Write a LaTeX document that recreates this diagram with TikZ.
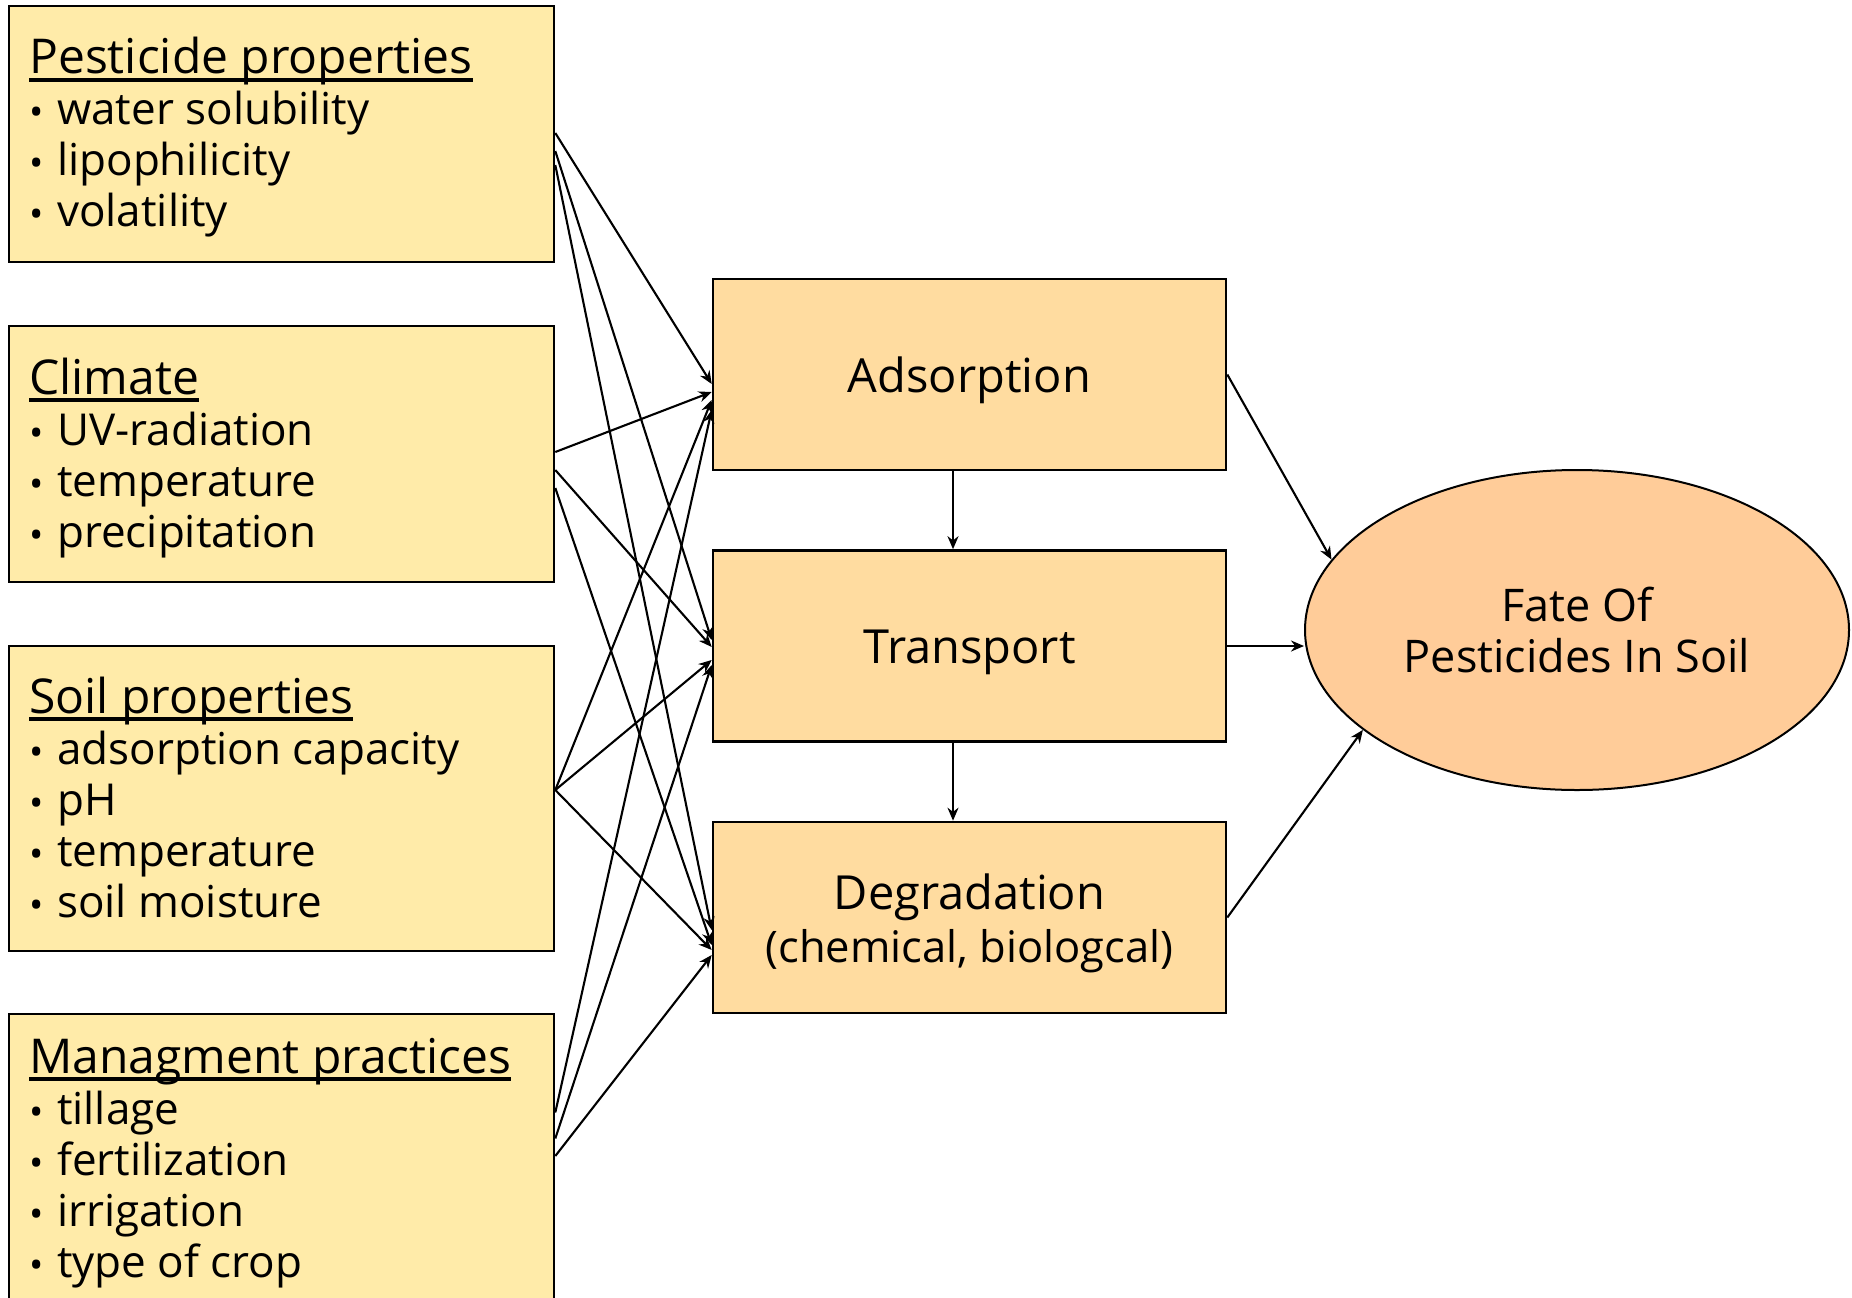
\documentclass[tikz,border=0pt]{standalone}
\usepackage{fontspec}
\setmainfont{Open Sans}
\usetikzlibrary{arrows.meta,calc,shapes.geometric}
\definecolor{factorfill}{HTML}{FFEBA9}
\definecolor{processfill}{HTML}{FFDCA0}
\definecolor{fatefill}{HTML}{FFCC99}
% underlined heading with a heavy rule, set a little larger than the entries
\newcommand{\hd}[1]{{\fontsize{48}{51}\selectfont\setbox0\hbox{#1}\rlap{\rule[-8pt]{\wd0}{3.8pt}}\box0}}
% bulleted list entry
\newcommand{\itm}[1]{\makebox[28pt][l]{\raisebox{-1pt}{\fontsize{38}{38}\selectfont\textbullet}}#1}
\begin{document}
\begin{tikzpicture}[x=1pt,y=-1pt,
  factor/.style={draw=black,line width=2.6pt,fill=factorfill,rectangle,inner sep=0pt,minimum width=545pt},
  process/.style={draw=black,line width=2.6pt,fill=processfill,rectangle,inner sep=0pt,
    minimum width=513pt,minimum height=191pt},
  proctext/.style={inner sep=0pt,align=center,font=\fontsize{47}{53}\selectfont},
  fatestyle/.style={draw=black,line width=2pt,fill=fatefill,ellipse,inner sep=0pt,
    minimum width=544pt,minimum height=320pt,align=center,font=\fontsize{45}{51}\selectfont},
  factortext/.style={anchor=base west,inner sep=0pt,font=\fontsize{44}{51}\selectfont},
  link/.style={line width=2.1pt,-{Stealth[length=13pt,width=11pt]}}]
\useasboundingbox (0,0) rectangle (1852,1298);
\clip (0,0) rectangle (1852,1298);
\fill[white] (0,0) rectangle (1852,1298);

% influencing factors
\node[factor,minimum height=256pt] (p1) at (281.5,134) {};
\node[factor,minimum height=256pt] (p2) at (281.5,454) {};
\node[factor,minimum height=305pt] (p3) at (281.5,798.5) {};
\node[factor,minimum height=305pt] (p4) at (281.5,1166.5) {};

\node[factortext] (p1t) at (29,74) {\begin{tabular}[t]{@{}l@{}}
  \hd{Pesticide properties}\\ \itm{water solubility}\\ \itm{lipophilicity}\\ \itm{volatility}\end{tabular}};
\node[factortext] (p2t) at (29,394) {\begin{tabular}[t]{@{}l@{}}
  \hd{Climate}\\ \itm{UV-radiation}\\ \itm{temperature}\\ \itm{precipitation}\end{tabular}};
\node[factortext] (p3t) at (29,713) {\begin{tabular}[t]{@{}l@{}}
  \hd{Soil properties}\\ \itm{adsorption capacity}\\ \itm{pH}\\ \itm{temperature}\\ \itm{soil moisture}\end{tabular}};
\node[factortext] (p4t) at (29,1073) {\begin{tabular}[t]{@{}l@{}}
  \hd{Managment practices}\\ \itm{tillage}\\ \itm{fertilization}\\ \itm{irrigation}\\ \itm{type of crop}\end{tabular}};

% processes
\node[process] (ads) at (969.5,374.5) {};
\node[process] (trn) at (969.5,646) {};
\node[process] (dgr) at (969.5,917.5) {};
\node[proctext] (adst) at ($(ads.center)+(0,6)$) {Adsorption};
\node[proctext] (trnt) at ($(trn.center)+(0,6)$) {Transport};
\node[proctext] (dgrt) at ($(dgr.center)+(0,6)$) {Degradation\\{\fontsize{43.5}{53}\selectfont(chemical, biologcal)}};

% result
\node[fatestyle] (fate) at (1577,630) {Fate Of\\Pesticides In Soil};

% factor -> process links (source offset / target offset)
\foreach \src/\so/\dst/\doff in {
  p1/-1/ads/9.5, p1/17/trn/-6, p1/31/dgr/12.5,
  p2/-2/ads/17.5, p2/16/trn/1, p2/34/dgr/27.5,
  p3/-8.5/ads/25.5, p3/-8.5/trn/14, p3/-8.5/dgr/32.5,
  p4/-54/ads/35.5, p4/-28/trn/19, p4/-10.5/dgr/37.5}
  \draw[link] ($(\src.east)+(0,\so)$) -- ($(\dst.west)+(0,\doff)$);

% process chain
\draw[link] ($(ads.south)+(-16.5,0)$) -- ($(trn.north)+(-16.5,0)$);
\draw[link] ($(trn.south)+(-16.5,0)$) -- ($(dgr.north)+(-16.5,0)$);

% processes -> fate
\draw[link] (ads.east) -- (fate.164);
\draw[link] (trn.east) -- (trn.east -| fate.west);
\draw[link] (dgr.east) -- (fate.205);
\end{tikzpicture}
\end{document}
